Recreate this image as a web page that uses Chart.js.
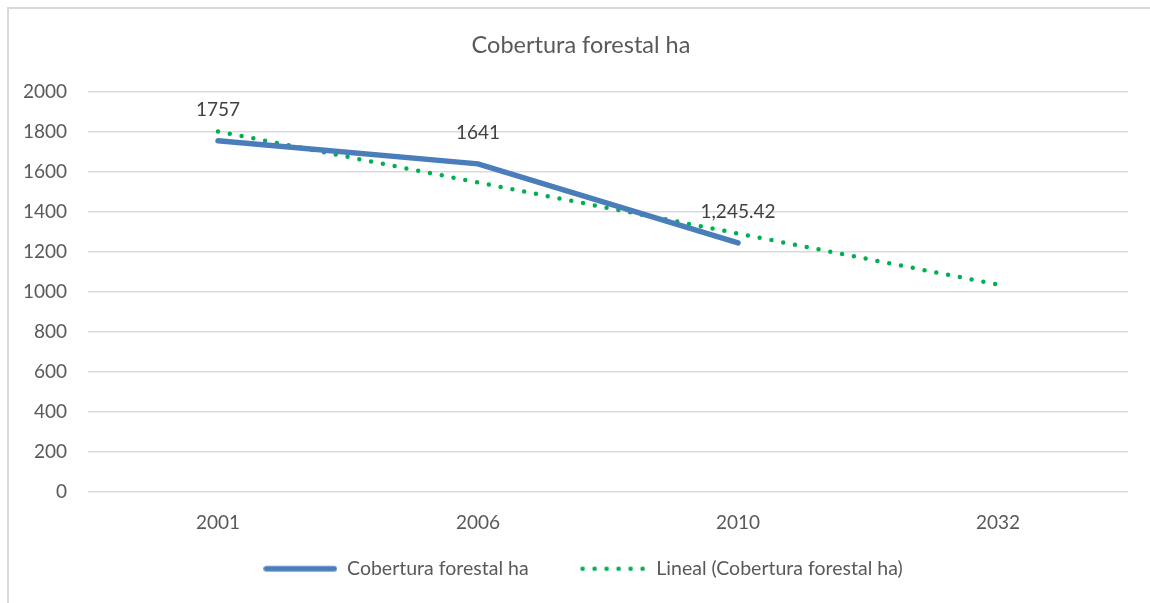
<!DOCTYPE html>
<html lang="es">
<head>
    <meta charset="UTF-8">
    <title>Cobertura forestal ha</title>
    <script src="https://cdn.jsdelivr.net/npm/chart.js"></script>
    <style>
        html, body { margin: 0; padding: 0; background: #fff; overflow: hidden; }
        #graficoContainer { width: 1150px; height: 603px; position: relative; }
    </style>
</head>
<body>
    <div id="graficoContainer">
        <canvas id="myChart" width="1150" height="603"></canvas>
    </div>

    <script>
        // datos
        const anios = ['2001', '2006', '2010', '2032'];
        const cobertura = [1757, 1641, 1245.42, null];
        const etiquetasCobertura = ['1757', '1641', '1,245.42', ''];
        const tendenciaLineal = [1803.6, 1547.8, 1292.0, 1036.2];

        const fuente = 'Lato, "Open Sans", sans-serif';
        const gris = '#595959';
        const azul = '#4a7ebb';

        // marcadores de la leyenda
        function marcadorLinea() {
            const c = document.createElement('canvas');
            c.width = 74; c.height = 8;
            const g = c.getContext('2d');
            g.strokeStyle = azul;
            g.lineWidth = 5.5;
            g.lineCap = 'round';
            g.beginPath(); g.moveTo(3, 4); g.lineTo(71, 4); g.stroke();
            return c;
        }
        function marcadorPuntos() {
            const c = document.createElement('canvas');
            c.width = 74; c.height = 8;
            const g = c.getContext('2d');
            g.fillStyle = '#00b050';
            for (let i = 0; i < 6; i++) {
                g.beginPath(); g.arc(10 + i * 12, 4, 2.3, 0, Math.PI * 2); g.fill();
            }
            return c;
        }

        // borde, posición de título y leyenda, etiquetas de datos
        const extras = {
            id: 'extras',
            beforeDraw(chart) {
                const ctx = chart.ctx;
                ctx.save();
                ctx.strokeStyle = '#d9d9d9';
                ctx.lineWidth = 2;
                ctx.strokeRect(8, 8, 1300, 800);
                ctx.restore();

                const lg = chart.legend;
                if (lg && !lg._movida) {
                    const h = lg.bottom - lg.top;
                    lg.top = 515; lg.bottom = 515 + h;
                    lg.left += 19; lg.right += 19;
                    lg._movida = true;
                }
                const tt = chart.titleBlock;
                if (tt && !tt._movida) {
                    tt.left += 17; tt.right += 17;
                    tt._movida = true;
                }
            },
            afterDatasetsDraw(chart) {
                const ctx = chart.ctx;
                const meta = chart.getDatasetMeta(0);
                ctx.save();
                ctx.font = '19px ' + fuente;
                ctx.fillStyle = '#404040';
                ctx.textAlign = 'center';
                ctx.textBaseline = 'middle';
                meta.data.forEach((p, i) => {
                    if (cobertura[i] === null) return;
                    ctx.fillText(etiquetasCobertura[i], p.x, p.y - 31);
                });
                ctx.restore();
            }
        };

        const ctx = document.getElementById('myChart').getContext('2d');
        new Chart(ctx, {
            type: 'line',
            data: {
                labels: anios,
                datasets: [{
                    label: 'Cobertura forestal ha',
                    data: cobertura,
                    borderColor: azul,
                    borderWidth: 5.5,
                    pointRadius: 0,
                    borderCapStyle: 'round',
                    spanGaps: false,
                    pointStyle: marcadorLinea()
                }, {
                    label: 'Lineal (Cobertura forestal ha)',
                    data: tendenciaLineal,
                    borderColor: '#00b050',
                    borderWidth: 4.5,
                    borderDash: [0, 12],
                    borderCapStyle: 'round',
                    pointRadius: 0,
                    pointStyle: marcadorPuntos()
                }]
            },
            options: {
                responsive: false,
                animation: false,
                layout: { padding: { top: 31, right: 22, bottom: -12, left: 0 } },
                plugins: {
                    title: {
                        display: true,
                        text: 'Cobertura forestal ha',
                        color: gris,
                        font: { family: fuente, size: 23.5, weight: 'normal' },
                        padding: { top: 0, bottom: 33 }
                    },
                    legend: {
                        position: 'bottom',
                        labels: {
                            usePointStyle: true,
                            pointStyleWidth: 74,
                            color: gris,
                            padding: 44,
                            font: { family: fuente, size: 19.5 }
                        }
                    },
                    tooltip: { enabled: false }
                },
                scales: {
                    x: {
                        offset: true,
                        grid: { display: false, drawTicks: false },
                        border: { display: false },
                        ticks: { color: gris, padding: 20, font: { family: fuente, size: 19 } },
                        afterFit: s => { s.height = 50; }
                    },
                    y: {
                        min: 0,
                        max: 2000,
                        ticks: {
                            stepSize: 200,
                            color: gris,
                            padding: 21,
                            font: { family: fuente, size: 19 },
                            callback: v => String(v)
                        },
                        grid: { color: '#d9d9d9', lineWidth: 1.5, drawTicks: false },
                        border: { display: false },
                        afterFit: s => { s.width = 88; }
                    }
                }
            },
            plugins: [extras]
        });
    </script>
</body>
</html>
